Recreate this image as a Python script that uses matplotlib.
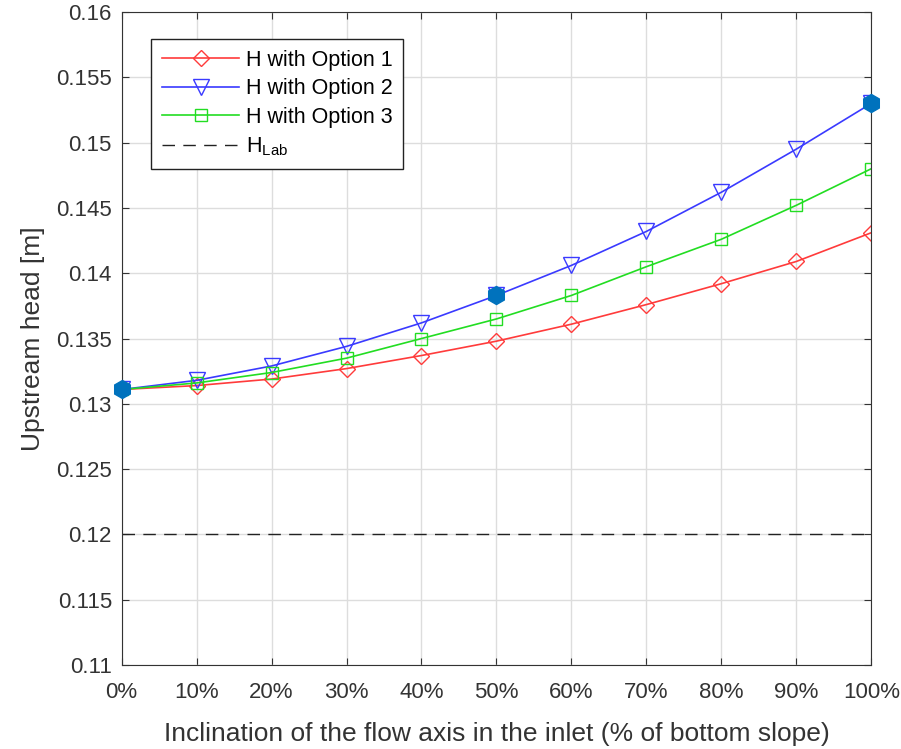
import numpy as np
import matplotlib
matplotlib.use("Agg")
from matplotlib import pyplot as plt

plt.rcParams['font.family'] = ['Liberation Sans', 'DejaVu Sans']
plt.rcParams['mathtext.fontset'] = 'custom'
plt.rcParams['mathtext.rm'] = 'Liberation Sans'

# inclination (% of bottom slope)
incl = [0, 10, 20, 30, 40, 50, 60, 70, 80, 90, 100]
tick_labels = [str(v) + "%" for v in incl]

h_opt1 = [0.1311, 0.1314, 0.1319, 0.1327, 0.1337, 0.1348, 0.1361, 0.1376, 0.1392, 0.1409, 0.1431]
h_opt2 = [0.1311, 0.1318, 0.1329, 0.1344, 0.1362, 0.1383, 0.1406, 0.1432, 0.1462, 0.1495, 0.1530]
h_opt3 = [0.1311, 0.1316, 0.1324, 0.1335, 0.1350, 0.1365, 0.1383, 0.1405, 0.1426, 0.1452, 0.1480]
h_lab = 0.12

# highlighted points on option 2
hl_x = [0, 50, 100]
hl_y = [0.1311, 0.1383, 0.1530]

fig = plt.figure(figsize=(9.01, 7.49), dpi=100)
ax = fig.add_axes([0.135, 0.112, 0.832, 0.872])

ax.plot(incl, h_opt1, color='#ff3b3b', marker='D', markersize=8, mfc='none', lw=1.2,
        label='H with Option 1')
ax.plot(incl, h_opt2, color='#3a3aff', marker='v', markersize=11, mfc='none', lw=1.2,
        label='H with Option 2')
ax.plot(incl, h_opt3, color='#22dd22', marker='s', markersize=8, mfc='none', lw=1.2,
        label='H with Option 3')
ax.plot([0, 100], [h_lab, h_lab], color='#222222', ls=(0, (9, 6)), lw=1.0,
        label='H$_{\\mathrm{Lab}}$')
ax.plot(hl_x, hl_y, ls='none', marker='h', markersize=13, color='#0072BD', zorder=5,
        clip_on=False)

ax.set_xlim(0, 100)
ax.set_ylim(0.11, 0.16)
ax.set_xticks(incl)
ax.set_xticklabels(tick_labels)
ax.set_yticks(np.arange(0.11, 0.1601, 0.005))
ax.set_yticklabels(['0.11', '0.115', '0.12', '0.125', '0.13', '0.135', '0.14',
                    '0.145', '0.15', '0.155', '0.16'])
ax.tick_params(direction='in', top=True, right=True, labelsize=16, colors='#333333',
               length=5)
ax.tick_params(axis='x', pad=12)
ax.tick_params(axis='y', pad=7)
ax.grid(True, color='#dddddd', lw=1.0)
for s in ax.spines.values():
    s.set_color('#333333')

ax.set_xlabel('Inclination of the flow axis in the inlet (% of bottom slope)', fontsize=19,
              color='#333333', labelpad=14)
ax.set_ylabel('Upstream head [m]', fontsize=19, color='#333333', labelpad=8)

leg = ax.legend(loc='upper left', bbox_to_anchor=(0.025, 0.975), fontsize=15.5,
                fancybox=False, edgecolor='#222222', framealpha=1, handlelength=3.6,
                borderpad=0.5, labelspacing=0.35, handletextpad=0.3)
leg.get_frame().set_linewidth(1.0)

fig.savefig('out.png', dpi=100)
